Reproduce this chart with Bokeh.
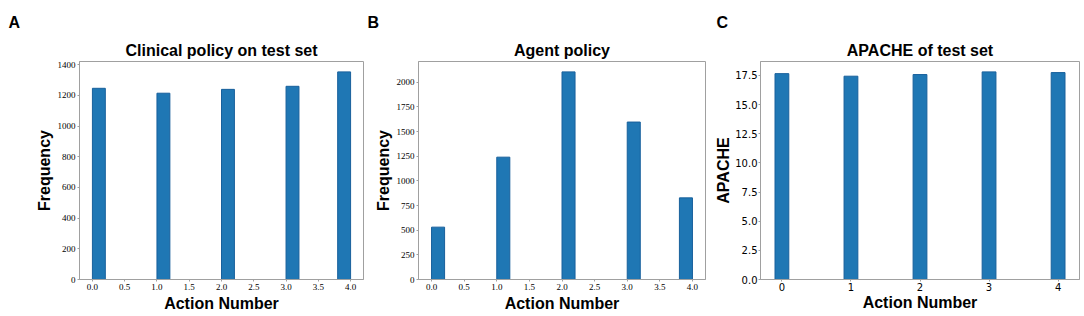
from bokeh.plotting import figure
from bokeh.layouts import row
from bokeh.models import FixedTicker, NumeralTickFormatter, Title, ColumnDataSource
from bokeh.embed import file_html
from bokeh.resources import INLINE

# ---- data ----
actions = [0, 1, 2, 3, 4]
clinical_freq = [1246, 1214, 1239, 1259, 1353]
agent_freq = [531, 1241, 2106, 1597, 828]
apache_mean = [17.66, 17.44, 17.58, 17.81, 17.75]

hist_ticks = [0.0, 0.5, 1.0, 1.5, 2.0, 2.5, 3.0, 3.5, 4.0]
clin_yticks = [0, 200, 400, 600, 800, 1000, 1200, 1400]
agent_yticks = [0, 250, 500, 750, 1000, 1250, 1500, 1750, 2000]
apache_yticks = [0.0, 2.5, 5.0, 7.5, 10.0, 12.5, 15.0, 17.5]
apache_xticks = [0, 1, 2, 3, 4]

titles = ["Clinical policy on test set", "Agent policy", "APACHE of test set"]
panel_letters = ["A", "B", "C"]
xlabel = "Action Number"
ylabels = ["Frequency", "Frequency", "APACHE"]

# histogram bins (20 bins over [0, 4])
n_bins = 20
lo, hi = min(actions), max(actions)
bw = (hi - lo) / n_bins
def bin_edges(a):
    i = min(int(round((a - lo) / bw, 6)), n_bins - 1)
    return lo + i * bw, lo + (i + 1) * bw

lefts = [bin_edges(a)[0] for a in actions]
rights = [bin_edges(a)[1] for a in actions]

FILL = "#1f77b4"
EDGE = "#18609c"
FRAME = "#a0a0a0"
SANS_B = "Liberation Sans"


def style(p, serif, tick_px, lab_off):
    p.outline_line_color = FRAME
    p.outline_line_width = 1
    p.xgrid.visible = False
    p.ygrid.visible = False
    p.background_fill_color = "white"
    p.border_fill_color = "white"
    for ax in (p.xaxis[0], p.yaxis[0]):
        ax.axis_line_color = FRAME
        ax.major_tick_line_color = FRAME
        ax.major_tick_out = 2
        ax.major_tick_in = 0
        ax.minor_tick_line_color = None
        ax.major_label_text_font = "Liberation Serif" if serif else "DejaVu Sans"
        ax.major_label_text_font_size = tick_px
        ax.major_label_text_color = "black"
        ax.major_label_standoff = 2 if serif else 1
        ax.axis_label_text_font = SANS_B
        ax.axis_label_text_font_style = "bold"
        ax.axis_label_text_font_size = "16px"
        ax.axis_label_text_color = "black"
        ax.axis_label_standoff = lab_off


def make(idx, width, bl, br, bt, bb, x_range, y_range, serif, tick_px, letter_x, lab_off=2):
    letter = Title(text=panel_letters[idx], align="left", offset=letter_x - bl,
                   text_font=SANS_B, text_font_style="bold", text_font_size="16px",
                   text_color="black", standoff=11, text_line_height=1.0)
    p = figure(width=width, height=316, x_range=x_range, y_range=y_range,
               output_backend="svg", toolbar_location=None, title=letter,
               min_border_left=bl, min_border_right=br, min_border_top=bt,
               min_border_bottom=bb, x_axis_label=xlabel, y_axis_label=ylabels[idx])
    style(p, serif, tick_px, lab_off)
    main = Title(text=titles[idx], align="center", text_font=SANS_B,
                 text_font_style="bold", text_font_size="16px", text_color="black",
                 standoff=6, text_line_height=1.0)
    p.add_layout(main, "above")
    return p

# Panel A
pA = make(0, 364, 79, 1, 57, 37, (-0.2, 4.2), (0, 1.05 * max(clinical_freq)), True, "9px", 8)
srcA = ColumnDataSource(dict(left=lefts, right=rights, top=clinical_freq))
pA.quad(left="left", right="right", bottom=0, top="top", source=srcA,
        fill_color=FILL, line_color=EDGE, line_width=1)
pA.xaxis[0].ticker = FixedTicker(ticks=hist_ticks)
pA.xaxis[0].formatter = NumeralTickFormatter(format="0.0")
pA.yaxis[0].ticker = FixedTicker(ticks=clin_yticks)

# Panel B
pB = make(1, 348, 54, 7, 58, 34, (-0.2, 4.2), (0, 1.05 * max(agent_freq)), True, "9px", 3)
srcB = ColumnDataSource(dict(left=lefts, right=rights, top=agent_freq))
pB.quad(left="left", right="right", bottom=0, top="top", source=srcB,
        fill_color=FILL, line_color=EDGE, line_width=1)
pB.xaxis[0].ticker = FixedTicker(ticks=hist_ticks)
pB.xaxis[0].formatter = NumeralTickFormatter(format="0.0")
pB.yaxis[0].ticker = FixedTicker(ticks=agent_yticks)

# Panel C
pC = make(2, 372, 45, 5, 61, 32, (-0.31, 4.31), (0, 1.05 * max(apache_mean)), False, "10px", 1, lab_off=0)
srcC = ColumnDataSource(dict(x=actions, top=apache_mean))
pC.vbar(x="x", width=0.2, bottom=0, top="top", source=srcC,
        fill_color=FILL, line_color=EDGE, line_width=1)
pC.xaxis[0].ticker = FixedTicker(ticks=apache_xticks)
pC.yaxis[0].ticker = FixedTicker(ticks=apache_yticks)
pC.yaxis[0].formatter = NumeralTickFormatter(format="0.0")

layout = row(pA, pB, pC, spacing=0)
with open("out.html", "w") as f:
    f.write(file_html(layout, INLINE))
